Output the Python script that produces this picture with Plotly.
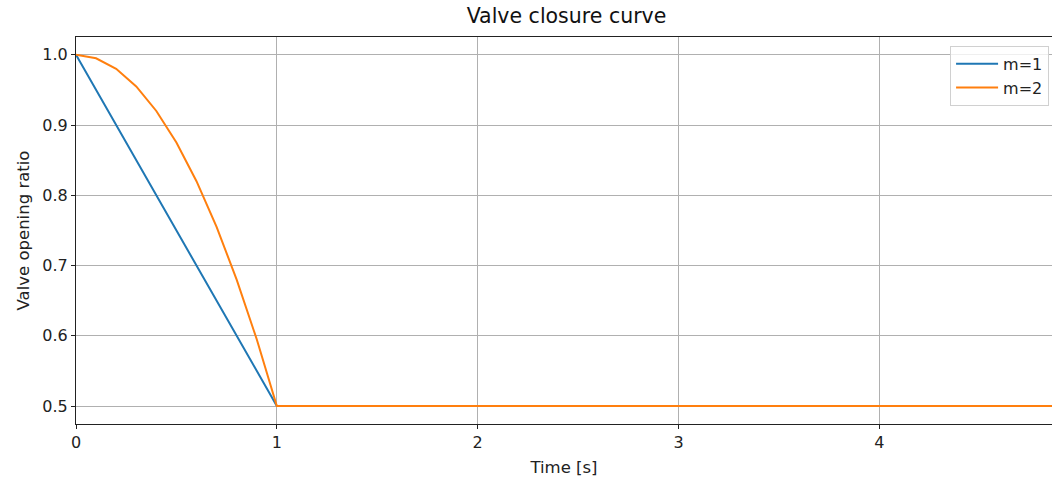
import plotly.graph_objects as go

time_s = [0.0, 0.1, 0.2, 0.3, 0.4, 0.5, 0.6, 0.7, 0.8, 0.9, 1.0, 2.0, 3.0, 4.0, 5.0]
opening_m1 = [1.0, 0.95, 0.9, 0.85, 0.8, 0.75, 0.7, 0.65, 0.6, 0.55, 0.5, 0.5, 0.5, 0.5, 0.5]
opening_m2 = [1.0, 0.995, 0.98, 0.955, 0.92, 0.875, 0.82, 0.755, 0.68, 0.595, 0.5, 0.5, 0.5, 0.5, 0.5]
series_names = ["m=1", "m=2"]
x_ticks = [0, 1, 2, 3, 4]
y_ticks = [0.5, 0.6, 0.7, 0.8, 0.9, 1.0]

fig = go.Figure()
fig.add_trace(go.Scatter(x=time_s, y=opening_m1, mode="lines", name=series_names[0],
                         line=dict(color="#1f77b4", width=2)))
fig.add_trace(go.Scatter(x=time_s, y=opening_m2, mode="lines", name=series_names[1],
                         line=dict(color="#ff7f0e", width=2)))

font = "DejaVu Sans, sans-serif"
fig.update_layout(
    width=1052, height=480,
    margin=dict(l=76, r=0, t=37, b=56),
    paper_bgcolor="white", plot_bgcolor="white",
    font=dict(family=font, size=16, color="#222"),
    title=dict(text="Valve closure curve", x=0.5385, xanchor="center", y=0.966, yanchor="middle",
               font=dict(size=20.5, color="#111")),
    legend=dict(x=0.997, y=0.977, xanchor="right", yanchor="top",
                bordercolor="#d0d0d0", borderwidth=1, bgcolor="rgba(255,255,255,0.8)",
                font=dict(size=16, color="#222"), tracegroupgap=0, itemwidth=42),
    showlegend=True,
)
fig.update_xaxes(
    range=[0, 4.86], tickvals=x_ticks, ticktext=[str(v) for v in x_ticks],
    showgrid=True, gridcolor="#b0b0b0", gridwidth=1,
    showline=True, linecolor="#222", linewidth=1, mirror=True,
    ticks="outside", ticklen=4, tickcolor="#222", zeroline=False,
    tickfont=dict(size=16),
    title=dict(text="Time [s]", font=dict(size=16.5), standoff=10),
)
fig.update_yaxes(
    range=[0.4744, 1.0253], tickvals=y_ticks, ticktext=[f"{v:.1f}" for v in y_ticks],
    showgrid=True, gridcolor="#b0b0b0", gridwidth=1,
    showline=True, linecolor="#222", linewidth=1, mirror=False,
    ticks="outside", ticklen=4, tickcolor="#222", zeroline=False,
    tickfont=dict(size=16),
    title=dict(text="Valve opening ratio", font=dict(size=16.5), standoff=8),
)

fig.write_html("out.html")
